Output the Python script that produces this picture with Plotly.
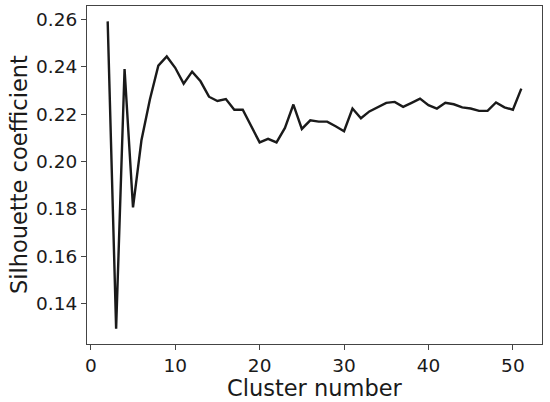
import plotly.graph_objects as go

# cluster counts tried and the mean silhouette score for each
clusters = list(range(2, 52))
silhouette = [
    0.2592, 0.1295, 0.2391, 0.1807, 0.2090, 0.2262, 0.2405, 0.2444, 0.2396, 0.2329,
    0.2380, 0.2339, 0.2274, 0.2256, 0.2264, 0.2219, 0.2219, 0.2151, 0.2081, 0.2096,
    0.2081, 0.2142, 0.2241, 0.2138, 0.2174, 0.2169, 0.2169, 0.2149, 0.2128, 0.2224,
    0.2183, 0.2212, 0.2229, 0.2248, 0.2252, 0.2231, 0.2248, 0.2266, 0.2238, 0.2224,
    0.2248, 0.2242, 0.2229, 0.2224, 0.2214, 0.2214, 0.2250, 0.2229, 0.2219, 0.2308,
]

x_ticks = [0, 10, 20, 30, 40, 50]
y_ticks = [0.14, 0.16, 0.18, 0.20, 0.22, 0.24, 0.26]


def padded(vals, pad=0.05):
    lo, hi = min(vals), max(vals)
    span = hi - lo
    return [lo - pad * span, hi + pad * span]


fig = go.Figure()
fig.add_trace(go.Scatter(
    x=clusters, y=silhouette, mode='lines',
    line=dict(color='#1a1a1a', width=2.4),
    showlegend=False,
))

axis_style = dict(
    showline=True, mirror=True, linecolor='#444', linewidth=1.2,
    ticks='outside', ticklen=5, tickwidth=1, tickcolor='#444',
    showgrid=False, zeroline=False, automargin=False,
    tickfont=dict(family='DejaVu Sans', size=18.5, color='#1a1a1a'),
)
title_font = dict(family='DejaVu Sans', size=22.5, color='#1a1a1a')

fig.update_layout(
    width=550, height=402,
    margin=dict(l=87, r=8, t=6, b=58),
    paper_bgcolor='white', plot_bgcolor='white',
    xaxis=dict(range=padded(clusters), tickvals=x_ticks, **axis_style),
    yaxis=dict(range=padded(silhouette), tickvals=y_ticks, tickformat='.2f', **axis_style),
)

# axis titles as annotations so they sit exactly where the reference has them
fig.add_annotation(
    text='Cluster number', font=title_font, showarrow=False,
    xref='paper', yref='paper', x=0.5, y=0, yanchor='middle', yshift=-44,
)
fig.add_annotation(
    text='Silhouette coefficient', font=title_font, showarrow=False, textangle=-90,
    xref='paper', yref='paper', x=0, y=0.5, xanchor='center', xshift=-68,
)

# the default page has an 8px body margin; drop it so the figure fills the window
fig.write_html("out.html", config={'displayModeBar': False},
               post_script="document.body.style.margin='0';")
